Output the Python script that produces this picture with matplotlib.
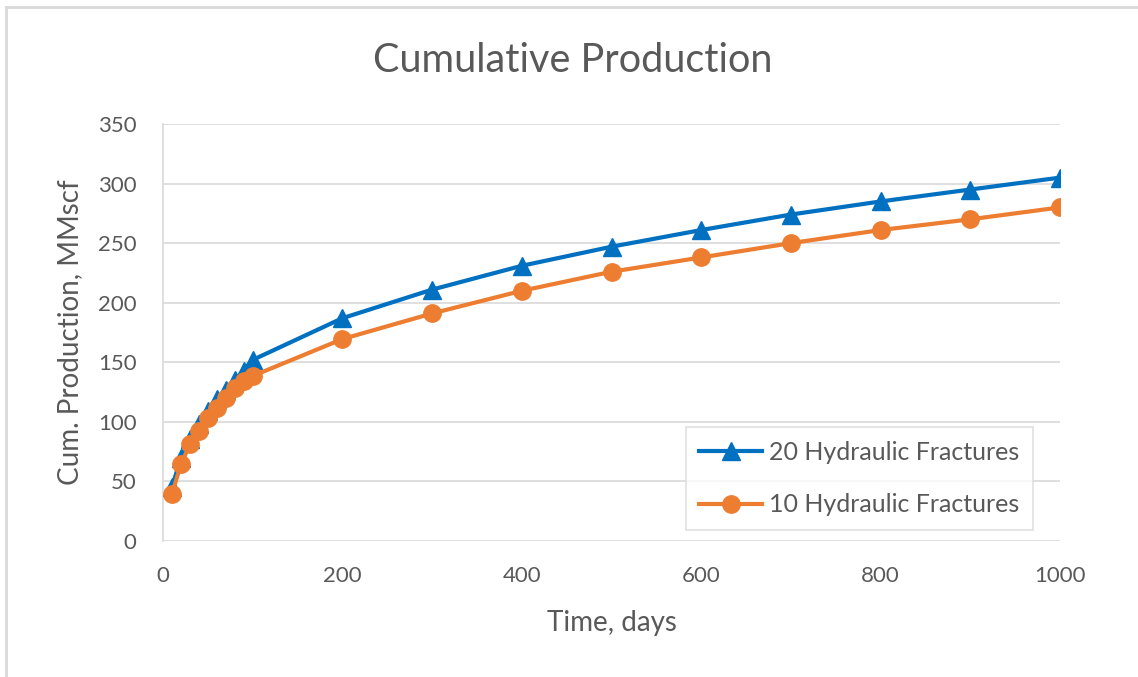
import matplotlib
matplotlib.use("Agg")
import matplotlib.pyplot as plt
from matplotlib.lines import Line2D

# Cumulative production (MMscf) versus time (days)
time_days = [10, 20, 30, 40, 50, 60, 70, 80, 90, 100,
             200, 300, 400, 500, 600, 700, 800, 900, 1000]
frac20 = [45, 70, 86, 98, 109, 119, 127, 135, 143, 152,
          187, 211, 231, 247, 261, 274, 285, 295, 305]
frac10 = [39.5, 64.5, 81, 92, 103, 112, 120, 128, 134, 138.5,
          169.5, 191, 210, 226, 238, 250, 261, 270, 280]

series_labels = ["20 Hydraulic Fractures", "10 Hydraulic Fractures"]
x_ticks = [0, 200, 400, 600, 800, 1000]
y_ticks = [0, 50, 100, 150, 200, 250, 300, 350]

plt.rcParams["font.family"] = ["Lato", "DejaVu Sans"]
text_color = "#595959"
blue = "#0070C0"
orange = "#ED7D31"

W, H = 1138, 677
fig = plt.figure(figsize=(W / 100, H / 100), dpi=100)
ax = fig.add_axes([163 / W, 1 - 541 / H, (1060 - 163) / W, (541 - 124) / H])

ax.plot(time_days, frac20, color=blue, lw=3, marker="^", ms=12.5,
        label=series_labels[0], solid_joinstyle="round", zorder=3)
ax.plot(time_days, frac10, color=orange, lw=3, marker="o", ms=12.5,
        label=series_labels[1], solid_joinstyle="round", zorder=3)

ax.set_xlim(0, 1000)
ax.set_ylim(0, 350)
ax.set_xticks(x_ticks)
ax.set_yticks(y_ticks)
ax.grid(axis="y", color="#D9D9D9", lw=1.2)
ax.set_axisbelow(True)
for side in ["top", "right", "bottom"]:
    ax.spines[side].set_visible(False)
ax.spines["left"].set_color("#D9D9D9")
ax.spines["left"].set_linewidth(1.2)
ax.tick_params(axis="both", length=0, labelsize=16, colors=text_color)
ax.tick_params(axis="y", pad=19)
ax.tick_params(axis="x", pad=18)

ax.set_xlabel("Time, days", fontsize=20, color=text_color)
ax.set_ylabel("Cum. Production, MMscf", fontsize=20, color=text_color)
ax.xaxis.label.set_va("center")
ax.yaxis.label.set_va("center")
ax.xaxis.set_label_coords(0.5, (541 - 623) / 417)
ax.yaxis.set_label_coords((70 - 163) / 897, 0.5)

fig.text(573 / W, 1 - 60 / H, "Cumulative Production", fontsize=28.5,
         color=text_color, ha="center", va="center")

leg = ax.legend(loc="center", bbox_to_anchor=((859.5 - 163) / 897, (541 - 478.5) / 417),
                fontsize=18, frameon=True, fancybox=False, edgecolor="#D9D9D9",
                handlelength=2.5, borderpad=0.55, labelspacing=1.2,
                handletextpad=0.3, labelcolor=text_color, borderaxespad=0)
leg.get_frame().set_linewidth(1.2)

# light outer chart border (left and top edges)
fig.add_artist(Line2D([6 / W, 6 / W], [0, 1 - 7 / H], color="#D9D9D9", lw=2,
                      transform=fig.transFigure))
fig.add_artist(Line2D([6 / W, 1], [1 - 7 / H, 1 - 7 / H], color="#D9D9D9", lw=2,
                      transform=fig.transFigure))

fig.savefig("out.png", dpi=100, facecolor="white")
